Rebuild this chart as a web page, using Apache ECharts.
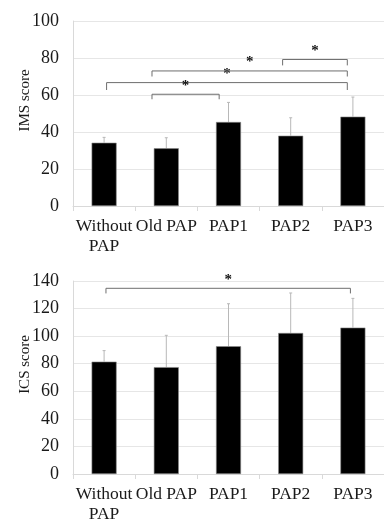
<!DOCTYPE html>
<html>
<head>
<meta charset="utf-8">
<script src="https://cdn.jsdelivr.net/npm/echarts@6/dist/echarts.min.js"></script>
<style>
html, body { margin: 0; padding: 0; background: #fff; }
#main { width: 384px; height: 524px; }
</style>
</head>
<body>
<div id="main"></div>
<script>
var categories = ['Without\nPAP', 'Old PAP', 'PAP1', 'PAP2', 'PAP3'];

// IMS score: mean and SD
var imsMean = [34.2, 31.2, 45.4, 38.0, 48.3];
var imsSd = [2.9, 5.7, 10.6, 9.7, 10.6];
var imsTicks = [0, 100, 20];

// ICS score: mean and SD
var icsMean = [81.5, 77.5, 92.7, 102.3, 106.2];
var icsSd = [8.0, 23.1, 30.8, 29.0, 21.2];
var icsTicks = [0, 140, 20];

// significance brackets: [from, to, lineValue, tickValue] (x in category units)
var imsBrackets = [
	[0.54, 4.41, 66.7, 62.7],
	[1.27, 4.41, 73.0, 70.0],
	[3.37, 4.41, 79.2, 76.0],
	[1.27, 2.35, 60.4, 57.7]
];
var icsBrackets = [
	[0.53, 4.46, 134.7, 131.0]
];

var font = 'Liberation Serif';
var lineGray = '#d9d9d9';

function errBars(mean, sd) {
	return mean.map(function(m, i) {
		return [i, m, m + sd[i]];
	});
}

function renderErr(params, api) {
	var bottom = api.coord([api.value(0), api.value(1)]);
	var top = api.coord([api.value(0), api.value(2)]);
	var st = { stroke: '#b8b8b8', lineWidth: 1 };
	return {
		type: 'group',
		children: [
			{ type: 'line', shape: { x1: top[0], y1: bottom[1], x2: top[0], y2: top[1] }, style: st },
			{ type: 'line', shape: { x1: top[0] - 1.5, y1: top[1], x2: top[0] + 1.5, y2: top[1] }, style: st }
		]
	};
}

function renderBracket(params, api) {
	var a = api.coord([api.value(0), api.value(2)]);
	var b = api.coord([api.value(1), api.value(2)]);
	var t = api.coord([api.value(0), api.value(3)]);
	var st = { stroke: '#6e6e6e', lineWidth: 1, fill: null };
	return {
		type: 'group',
		children: [
			{
				type: 'polyline',
				shape: { points: [[a[0], t[1]], [a[0], a[1]], [b[0], b[1]], [b[0], t[1]]] },
				style: st
			},
			{
				type: 'text',
				style: {
					text: '*', x: (a[0] + b[0]) / 2, y: a[1] - 1,
					align: 'center', verticalAlign: 'bottom',
					font: 'bold 15px ' + font, fill: '#111'
				}
			}
		]
	};
}

function xCat(grid) {
	return {
		type: 'category',
		gridIndex: grid,
		data: categories,
		axisLine: { lineStyle: { color: lineGray } },
		axisTick: { show: true, length: 5, lineStyle: { color: lineGray } },
		axisLabel: { interval: 0, fontFamily: font, fontSize: 17.5, color: '#1a1a1a', lineHeight: 20, margin: 10 }
	};
}

function xVal(grid) {
	return { type: 'value', gridIndex: grid, min: 0, max: 5, show: false };
}

function yAxis(grid, name, ticks) {
	return {
		type: 'value',
		gridIndex: grid,
		min: ticks[0],
		max: ticks[1],
		interval: ticks[2],
		name: name,
		nameLocation: 'middle',
		nameGap: 40,
		nameMoveOverlap: false,
		nameTextStyle: { fontFamily: font, fontSize: 15, color: '#1a1a1a', padding: [0, 0, 0, 26] },
		axisLine: { show: true, lineStyle: { color: lineGray } },
		axisTick: { show: false },
		splitLine: { lineStyle: { color: '#e6e6e6' } },
		axisLabel: { fontFamily: font, fontSize: 18, color: '#1a1a1a', margin: 14 }
	};
}

var chart = echarts.init(document.getElementById('main'));
var option = {
	animation: false,
	grid: [
		{ left: 73, right: 0, top: 21, height: 185 },
		{ left: 73, right: 0, top: 281, height: 193 }
	],
	xAxis: [xCat(0), xVal(0), xCat(1), xVal(1)],
	yAxis: [yAxis(0, 'IMS score', imsTicks), yAxis(1, 'ICS score', icsTicks)],
	series: [
		{
			type: 'bar', xAxisIndex: 0, yAxisIndex: 0, data: imsMean, barWidth: 25,
			itemStyle: { color: '#000', borderColor: '#8a8a8a', borderWidth: 0.6 }
		},
		{
			type: 'custom', xAxisIndex: 0, yAxisIndex: 0, data: errBars(imsMean, imsSd),
			renderItem: renderErr, z: 1
		},
		{
			type: 'custom', xAxisIndex: 1, yAxisIndex: 0, data: imsBrackets,
			renderItem: renderBracket, z: 3
		},
		{
			type: 'bar', xAxisIndex: 2, yAxisIndex: 1, data: icsMean, barWidth: 25,
			itemStyle: { color: '#000', borderColor: '#8a8a8a', borderWidth: 0.6 }
		},
		{
			type: 'custom', xAxisIndex: 2, yAxisIndex: 1, data: errBars(icsMean, icsSd),
			renderItem: renderErr, z: 1
		},
		{
			type: 'custom', xAxisIndex: 3, yAxisIndex: 1, data: icsBrackets,
			renderItem: renderBracket, z: 3
		}
	]
};
chart.setOption(option);
</script>
</body>
</html>
